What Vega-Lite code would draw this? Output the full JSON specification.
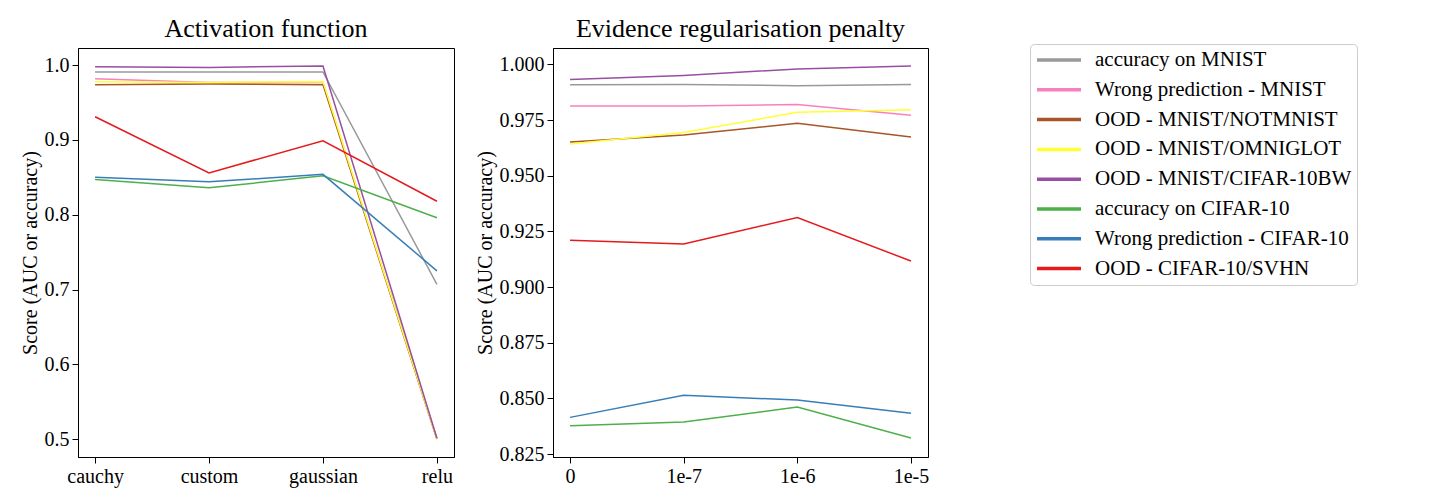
{
  "$schema": "https://vega.github.io/schema/vega-lite/v6.json",
  "background": "white",
  "padding": {"left": 19, "top": 15, "right": 5, "bottom": 5},
  "spacing": 19,
  "config": {
    "font": "Liberation Serif",
    "view": {"stroke": "black", "strokeWidth": 1},
    "axis": {
      "grid": false,
      "domainColor": "black",
      "tickColor": "black",
      "tickSize": 6,
      "labelPadding": 3,
      "labelFontSize": 20,
      "labelColor": "black",
      "titleFontSize": 20,
      "titleFontWeight": "normal",
      "titleColor": "black",
      "titlePadding": 4
    },
    "title": {"fontSize": 26, "fontWeight": "normal", "color": "black", "offset": 6, "baseline": "alphabetic"}
  },
  "datasets": {
    "act": [
      {"x": "cauchy", "series": "accuracy on MNIST", "value": 0.991},
      {"x": "custom", "series": "accuracy on MNIST", "value": 0.991},
      {"x": "gaussian", "series": "accuracy on MNIST", "value": 0.991},
      {"x": "relu", "series": "accuracy on MNIST", "value": 0.707},
      {"x": "cauchy", "series": "Wrong prediction - MNIST", "value": 0.982},
      {"x": "custom", "series": "Wrong prediction - MNIST", "value": 0.977},
      {"x": "gaussian", "series": "Wrong prediction - MNIST", "value": 0.977},
      {"x": "relu", "series": "Wrong prediction - MNIST", "value": 0.5},
      {"x": "cauchy", "series": "OOD - MNIST/NOTMNIST", "value": 0.974},
      {"x": "custom", "series": "OOD - MNIST/NOTMNIST", "value": 0.975},
      {"x": "gaussian", "series": "OOD - MNIST/NOTMNIST", "value": 0.974},
      {"x": "relu", "series": "OOD - MNIST/NOTMNIST", "value": 0.5},
      {"x": "cauchy", "series": "OOD - MNIST/OMNIGLOT", "value": 0.978},
      {"x": "custom", "series": "OOD - MNIST/OMNIGLOT", "value": 0.977},
      {"x": "gaussian", "series": "OOD - MNIST/OMNIGLOT", "value": 0.978},
      {"x": "relu", "series": "OOD - MNIST/OMNIGLOT", "value": 0.5},
      {"x": "cauchy", "series": "OOD - MNIST/CIFAR-10BW", "value": 0.998},
      {"x": "custom", "series": "OOD - MNIST/CIFAR-10BW", "value": 0.997},
      {"x": "gaussian", "series": "OOD - MNIST/CIFAR-10BW", "value": 0.999},
      {"x": "relu", "series": "OOD - MNIST/CIFAR-10BW", "value": 0.501},
      {"x": "cauchy", "series": "accuracy on CIFAR-10", "value": 0.847},
      {"x": "custom", "series": "accuracy on CIFAR-10", "value": 0.836},
      {"x": "gaussian", "series": "accuracy on CIFAR-10", "value": 0.852},
      {"x": "relu", "series": "accuracy on CIFAR-10", "value": 0.796},
      {"x": "cauchy", "series": "Wrong prediction - CIFAR-10", "value": 0.85},
      {"x": "custom", "series": "Wrong prediction - CIFAR-10", "value": 0.844},
      {"x": "gaussian", "series": "Wrong prediction - CIFAR-10", "value": 0.854},
      {"x": "relu", "series": "Wrong prediction - CIFAR-10", "value": 0.725},
      {"x": "cauchy", "series": "OOD - CIFAR-10/SVHN", "value": 0.931},
      {"x": "custom", "series": "OOD - CIFAR-10/SVHN", "value": 0.856},
      {"x": "gaussian", "series": "OOD - CIFAR-10/SVHN", "value": 0.899},
      {"x": "relu", "series": "OOD - CIFAR-10/SVHN", "value": 0.818}
    ],
    "evid": [
      {"x": "0", "series": "accuracy on MNIST", "value": 0.9909},
      {"x": "1e-7", "series": "accuracy on MNIST", "value": 0.991},
      {"x": "1e-6", "series": "accuracy on MNIST", "value": 0.9905},
      {"x": "1e-5", "series": "accuracy on MNIST", "value": 0.991},
      {"x": "0", "series": "Wrong prediction - MNIST", "value": 0.9813},
      {"x": "1e-7", "series": "Wrong prediction - MNIST", "value": 0.9813},
      {"x": "1e-6", "series": "Wrong prediction - MNIST", "value": 0.982},
      {"x": "1e-5", "series": "Wrong prediction - MNIST", "value": 0.9772},
      {"x": "0", "series": "OOD - MNIST/NOTMNIST", "value": 0.9652},
      {"x": "1e-7", "series": "OOD - MNIST/NOTMNIST", "value": 0.9683},
      {"x": "1e-6", "series": "OOD - MNIST/NOTMNIST", "value": 0.9736},
      {"x": "1e-5", "series": "OOD - MNIST/NOTMNIST", "value": 0.9674},
      {"x": "0", "series": "OOD - MNIST/OMNIGLOT", "value": 0.9643},
      {"x": "1e-7", "series": "OOD - MNIST/OMNIGLOT", "value": 0.9695},
      {"x": "1e-6", "series": "OOD - MNIST/OMNIGLOT", "value": 0.9785},
      {"x": "1e-5", "series": "OOD - MNIST/OMNIGLOT", "value": 0.9797},
      {"x": "0", "series": "OOD - MNIST/CIFAR-10BW", "value": 0.9932},
      {"x": "1e-7", "series": "OOD - MNIST/CIFAR-10BW", "value": 0.9951},
      {"x": "1e-6", "series": "OOD - MNIST/CIFAR-10BW", "value": 0.998},
      {"x": "1e-5", "series": "OOD - MNIST/CIFAR-10BW", "value": 0.9993},
      {"x": "0", "series": "accuracy on CIFAR-10", "value": 0.8377},
      {"x": "1e-7", "series": "accuracy on CIFAR-10", "value": 0.8394},
      {"x": "1e-6", "series": "accuracy on CIFAR-10", "value": 0.8461},
      {"x": "1e-5", "series": "accuracy on CIFAR-10", "value": 0.8322},
      {"x": "0", "series": "Wrong prediction - CIFAR-10", "value": 0.8415},
      {"x": "1e-7", "series": "Wrong prediction - CIFAR-10", "value": 0.8514},
      {"x": "1e-6", "series": "Wrong prediction - CIFAR-10", "value": 0.8493},
      {"x": "1e-5", "series": "Wrong prediction - CIFAR-10", "value": 0.8433},
      {"x": "0", "series": "OOD - CIFAR-10/SVHN", "value": 0.9211},
      {"x": "1e-7", "series": "OOD - CIFAR-10/SVHN", "value": 0.9194},
      {"x": "1e-6", "series": "OOD - CIFAR-10/SVHN", "value": 0.9313},
      {"x": "1e-5", "series": "OOD - CIFAR-10/SVHN", "value": 0.9117}
    ]
  },
  "hconcat": [
    {
      "title": "Activation function",
      "width": 376,
      "height": 409,
      "data": {"name": "act"},
      "mark": {"type": "line", "strokeWidth": 1.5},
      "encoding": {
        "x": {
          "field": "x",
          "type": "ordinal",
          "sort": ["cauchy", "custom", "gaussian", "relu"],
          "scale": {"type": "point", "padding": 0.15},
          "axis": {"title": null, "labelAngle": 0}
        },
        "y": {
          "field": "value",
          "type": "quantitative",
          "scale": {"domain": [0.476, 1.023], "nice": false, "zero": false},
          "axis": {"title": "Score (AUC or accuracy)", "values": [0.5, 0.6, 0.7, 0.8, 0.9, 1.0], "format": ".1f"}
        },
        "color": {
          "field": "series",
          "type": "nominal",
          "scale": {
            "domain": ["accuracy on MNIST", "Wrong prediction - MNIST", "OOD - MNIST/NOTMNIST", "OOD - MNIST/OMNIGLOT", "OOD - MNIST/CIFAR-10BW", "accuracy on CIFAR-10", "Wrong prediction - CIFAR-10", "OOD - CIFAR-10/SVHN"],
            "range": ["#999999", "#f781bf", "#a65628", "#ffff33", "#984ea3", "#4daf4a", "#377eb8", "#e41a1c"]
          },
          "legend": {
            "title": null,
            "orient": "none",
            "legendX": 952,
            "legendY": -4,
            "symbolType": "stroke",
            "symbolSize": 1936,
            "symbolStrokeWidth": 3.5,
            "labelFontSize": 21,
            "labelColor": "black",
            "labelOffset": 12,
            "labelLimit": 400,
            "clipHeight": 22,
            "rowPadding": 7.8,
            "padding": 5,
            "strokeColor": "#cccccc",
            "fillColor": "white",
            "cornerRadius": 4
          }
        }
      }
    },
    {
      "title": "Evidence regularisation penalty",
      "width": 375,
      "height": 409,
      "data": {"name": "evid"},
      "mark": {"type": "line", "strokeWidth": 1.5},
      "encoding": {
        "x": {
          "field": "x",
          "type": "ordinal",
          "sort": ["0", "1e-7", "1e-6", "1e-5"],
          "scale": {"type": "point", "padding": 0.15},
          "axis": {"title": null, "labelAngle": 0}
        },
        "y": {
          "field": "value",
          "type": "quantitative",
          "scale": {"domain": [0.8237, 1.0074], "nice": false, "zero": false},
          "axis": {"title": "Score (AUC or accuracy)", "values": [0.825, 0.85, 0.875, 0.9, 0.925, 0.95, 0.975, 1.0], "format": ".3f"}
        },
        "color": {"field": "series", "type": "nominal"}
      }
    }
  ]
}
